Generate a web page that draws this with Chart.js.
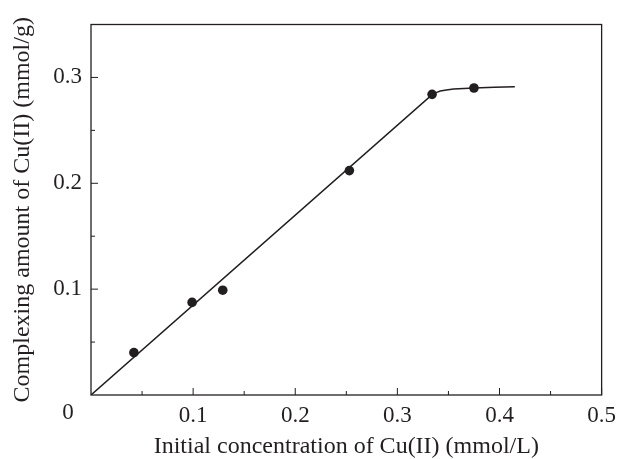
<!DOCTYPE html>
<html>
<head>
<meta charset="utf-8">
<script src="https://cdn.jsdelivr.net/npm/chart.js@4.4.1/dist/chart.umd.min.js"></script>
<style>
  html, body { margin: 0; padding: 0; background: #fff; }
  #wrap { width: 623px; height: 459px; }
</style>
</head>
<body>
<div id="wrap"><canvas id="c" width="623" height="459"></canvas></div>
<script>
// Measured data points
const pointX = [0.042, 0.099, 0.129, 0.253, 0.334, 0.375];
const pointY = [0.040, 0.0875, 0.099, 0.212, 0.284, 0.290];
// Fitted curve
const curveX = [0, 0.334, 0.338, 0.342, 0.348, 0.355, 0.365, 0.375, 0.395, 0.415];
const curveY = [0, 0.2837, 0.2857, 0.2871, 0.2882, 0.289, 0.2895, 0.2899, 0.2908, 0.2912];
// Ticks
const xMajor = [0.1, 0.2, 0.3, 0.4, 0.5];
const xMinor = [0.05, 0.15, 0.25, 0.35, 0.45];
const yMajor = [0.1, 0.2, 0.3];
const yMinor = [0.05, 0.15, 0.25];
const xTitle = 'Initial concentration of Cu(II) (mmol/L)';
const yTitle = 'Complexing amount of Cu(II) (mmol/g)';
const originLabel = '0';

const INK = '#231f20';
const FONT = 'Liberation Serif';

const framePlugin = {
  id: 'frame',
  afterDraw(chart) {
    const ctx = chart.ctx, a = chart.chartArea;
    const xs = chart.scales.x, ys = chart.scales.y;
    ctx.save();
    ctx.strokeStyle = INK;
    ctx.lineWidth = 1.3;
    ctx.strokeRect(a.left, a.top, a.right - a.left, a.bottom - a.top);
    ctx.lineWidth = 1;
    ctx.beginPath();
    xMajor.forEach(v => { const p = xs.getPixelForValue(v); ctx.moveTo(p, a.bottom); ctx.lineTo(p, a.bottom - 7); });
    xMinor.forEach(v => { const p = xs.getPixelForValue(v); ctx.moveTo(p, a.bottom); ctx.lineTo(p, a.bottom - 4); });
    yMajor.forEach(v => { const p = ys.getPixelForValue(v); ctx.moveTo(a.left, p); ctx.lineTo(a.left + 7, p); });
    yMinor.forEach(v => { const p = ys.getPixelForValue(v); ctx.moveTo(a.left, p); ctx.lineTo(a.left + 4, p); });
    ctx.stroke();
    ctx.fillStyle = INK;
    ctx.font = '23px "' + FONT + '"';
    ctx.textAlign = 'center';
    ctx.textBaseline = 'middle';
    ctx.fillText(originLabel, a.left - 23, ys.getPixelForValue(0) + 18);
    ctx.restore();
  }
};

new Chart(document.getElementById('c'), {
  type: 'scatter',
  data: {
    datasets: [
      {
        type: 'line',
        data: curveX.map((x, i) => ({ x: x, y: curveY[i] })),
        borderColor: INK,
        borderWidth: 1.5,
        pointRadius: 0,
        fill: false,
        tension: 0
      },
      {
        data: pointX.map((x, i) => ({ x: x, y: pointY[i] })),
        backgroundColor: INK,
        borderColor: INK,
        pointRadius: 4.8,
        pointBorderWidth: 0
      }
    ]
  },
  options: {
    responsive: false,
    animation: false,
    layout: { padding: { top: 24.5, right: 21, left: 0, bottom: 0 } },
    plugins: { legend: { display: false }, tooltip: { enabled: false } },
    scales: {
      x: {
        type: 'linear', min: 0, max: 0.5,
        afterBuildTicks: s => { s.ticks = xMajor.map(v => ({ value: v })); },
        afterFit: s => { s.height = 64; },
        grid: { display: false, drawTicks: false },
        border: { display: false },
        ticks: { color: INK, font: { family: FONT, size: 23 }, padding: 7, maxRotation: 0,
                 callback: v => String(v) },
        title: { display: true, text: xTitle, color: INK, font: { family: FONT, size: 24, lineHeight: 1.05 },
                 padding: { top: 0, bottom: 0 } }
      },
      y: {
        type: 'linear', min: 0, max: 0.35,
        afterBuildTicks: s => { s.ticks = yMajor.map(v => ({ value: v })); },
        afterFit: s => { s.width = 91; },
        grid: { display: false, drawTicks: false },
        border: { display: false },
        ticks: { color: INK, font: { family: FONT, size: 23 }, padding: 9,
                 callback: v => String(v) },
        title: { display: true, text: yTitle, color: INK, font: { family: FONT, size: 24 },
                 padding: { top: 8, bottom: 0 } }
      }
    }
  },
  plugins: [framePlugin]
});
</script>
</body>
</html>
